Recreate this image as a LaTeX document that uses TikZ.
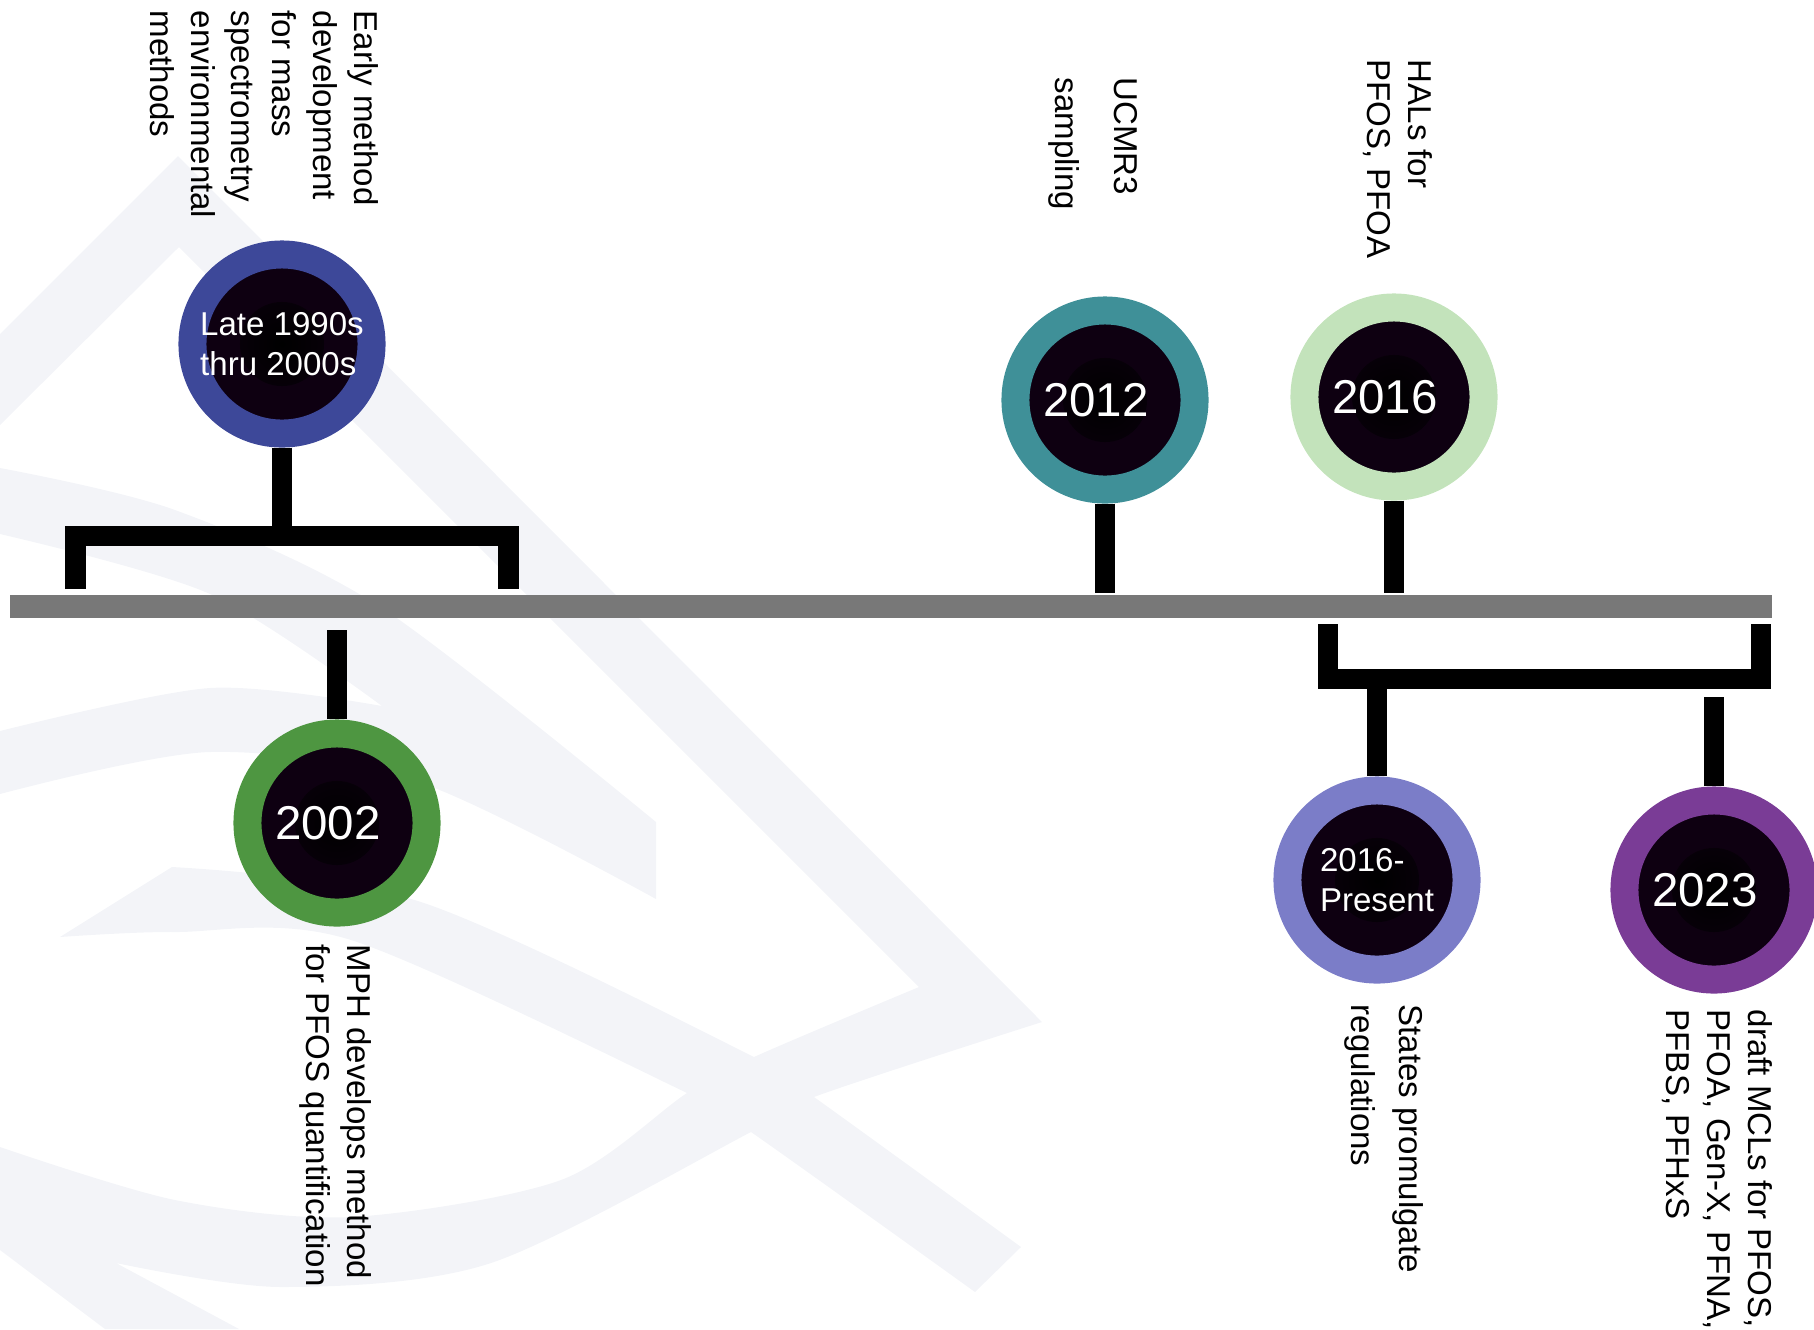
\documentclass[tikz,border=0pt]{standalone}
\usepackage{fontspec}
\setmainfont{Liberation Sans}
\usetikzlibrary{positioning}
\definecolor{markgray}{RGB}{243,244,248}
\definecolor{linegray}{RGB}{120,120,120}
\definecolor{ringindigo}{RGB}{61,72,153}
\definecolor{ringgreen}{RGB}{78,150,65}
\definecolor{ringteal}{RGB}{63,144,152}
\definecolor{ringmint}{RGB}{195,227,187}
\definecolor{ringlavender}{RGB}{123,125,200}
\definecolor{ringpurple}{RGB}{122,60,150}
\definecolor{coredark}{RGB}{14,0,17}
\newcommand{\yearfont}{\fontsize{13.5}{16}\selectfont}
\newcommand{\smallyear}{\fontsize{9.4}{11.4}\selectfont}
\newcommand{\notefont}{\fontsize{9.4}{11.6}\selectfont}

\begin{document}
\begin{tikzpicture}[x=0.01cm,y=-0.01cm,line cap=butt,
 yearring/.style={circle,minimum size=1.79cm,line width=0.28cm,draw=#1,fill=coredark,
  text=white,inner sep=0pt,align=left,
  path picture={\shade[inner color=black,outer color=coredark]
   (path picture bounding box.center) circle (0.42cm);}},
 bigyear/.style={font=\yearfont,execute at end node={\hspace*{0.18cm}}},
 pin/.style={line width=0.2cm,line join=miter},
 note/.style={rotate=-90,anchor=north west,align=left,inner sep=0pt,font=\notefont}]
\useasboundingbox (0,0) rectangle (1814,1329);
% faint logo behind the timeline
\fill[markgray] (0,334) -- (178,156) -- (1042,1022)
 -- plot[smooth] coordinates {(1042,1022) (814,1097) (751,1132) (491,1263) (281,1287) (116,1263)}
 -- (239,1329) -- (105,1329) -- (0,1250)
 -- plot[smooth] coordinates {(0,1147) (175,1200) (351,1217) (561,1180) (687,1093) (754,1057) (919,987)}
 -- (179,247) -- (0,425) -- cycle;
\fill[markgray] (60,937)
 -- plot[smooth] coordinates {(172,867) (421,902) (754,1057) (814,1097) (1021,1247)}
 -- (975,1292)
 -- plot[smooth] coordinates {(975,1292) (751,1132) (687,1093) (351,940) (175,932) (60,937)} -- cycle;
\fill[markgray] plot[smooth] coordinates {(0,468) (175,510) (382,608) (656,822)}
 -- (656,899) -- plot[smooth] coordinates {(656,899) (421,783) (210,752) (0,794)}
 -- plot[smooth] coordinates {(0,731) (210,688) (382,706)}
 -- plot[smooth] coordinates {(382,706) (210,594) (0,534)} -- cycle;
% timeline
\coordinate (barL) at (10,606.5);
\coordinate (barR) at (1772,606.5);
\coordinate (bartop) at (0,593);
\draw[linegray,line width=0.23cm] (barL) -- (barR);
% year circles
\node[yearring=ringindigo,font=\smallyear] (c90s) at (282,344) {Late 1990s\\thru 2000s};
\node[yearring=ringgreen,bigyear] (c02) at (337,823) {2002};
\node[yearring=ringteal,bigyear] (c12) at (1105,400) {2012};
\node[yearring=ringmint,bigyear] (c16) at (1394,397) {2016};
\node[yearring=ringlavender,font=\smallyear] (c16p) at (1377,880) {2016-\\Present};
\node[yearring=ringpurple,bigyear] (c23) at (1714,890) {2023};
% stems and brackets
\coordinate (b1l) at (75.5,589);
\coordinate (b1r) at (508.5,589);
\coordinate (b1m) at (285,536);
\draw[pin] (c90s.south) -- (c90s.south |- b1m);
\draw[pin] (b1l) |- (b1m) -| (b1r);
\coordinate (s02) at (337,630);
\draw[pin] (s02) -- (c02.north);
\foreach \yr in {c12,c16}
 \draw[pin] (\yr.south) -- (\yr.south |- bartop);
\coordinate (b2l) at (1328,624);
\coordinate (b2r) at (1761,624);
\coordinate (b2m) at (1377,678.5);
\draw[pin] (b2l) |- (b2m) -| (b2r);
\draw[pin] (b2m) -- (c16p.north);
\coordinate (s23) at (1714,697);
\draw[pin] (s23) -- (c23.north);
% rotated notes
\node[note] (n90s) at (379,10) {Early method\\development\\for mass\\spectrometry\\environmental\\methods};
\node[note] (n02) at (372,944) {MPH develops method\\for PFOS quantification};
\node[note] (n12) at (1138,77) {UCMR3\\[5pt]sampling};
\node[note] (n16) at (1433,59) {HALs for\\PFOS, PFOA};
\node[note] (n16p) at (1424,1004) {States promulgate\\[2pt]regulations};
\node[note] (n23) at (1773,1009) {draft MCLs for PFOS,\\PFOA, Gen-X, PFNA,\\PFBS, PFHxS};
\end{tikzpicture}
\end{document}
